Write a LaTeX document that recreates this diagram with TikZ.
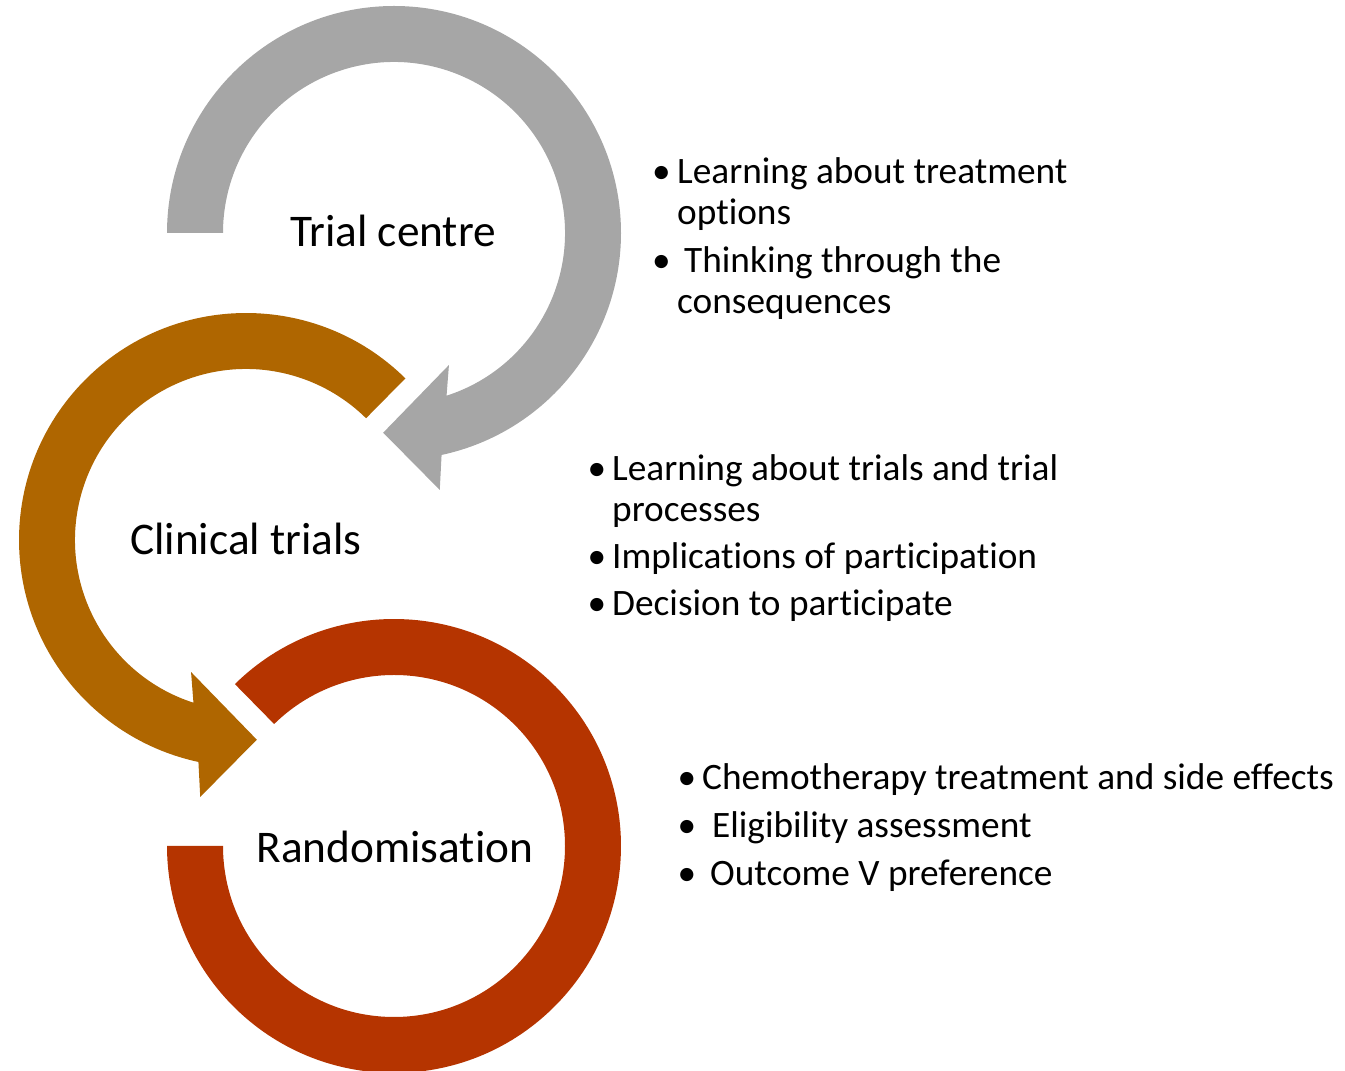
\documentclass[tikz,border=0pt]{standalone}
\usepackage{fontspec}
\setmainfont{Carlito}[RawFeature={-liga;-clig;-dlig;-calt}]
\usetikzlibrary{calc}
\definecolor{arcgray}{RGB}{166,166,166}
\definecolor{arcbrown}{RGB}{175,102,0}
\definecolor{arcred}{RGB}{181,52,0}
\tikzset{
  lbl/.style={anchor=base, inner sep=0pt, font=\fontsize{45.3}{54}\selectfont},
  btxt/.style={anchor=base west, inner sep=0pt, font=\fontsize{37.3}{45}\selectfont},
  bdot/.style={anchor=base, inner sep=0pt, font=\fontsize{37.3}{45}\selectfont},
}
\begin{document}
\begin{tikzpicture}[x=1pt,y=1pt]
\useasboundingbox (0,0) rectangle (1345,1071);
\coordinate (gc) at (394,838);
\coordinate (bc) at (246,531);
\coordinate (rc) at (394,225);
% gray circular arrow
\fill[arcgray] ($(gc)+(180:227)$) arc[start angle=180, end angle=-77.9, radius=227pt]
  -- ($(gc)+(-79.9:261)$) -- ($(gc)+(-93.1:200)$) -- ($(gc)+(-67.4:143)$)
  -- ($(gc)+(-72.1:171)$) arc[start angle=-72.1, end angle=180, radius=171pt] -- cycle;
% brown circular arrow
\fill[arcbrown] ($(bc)+(45.4:227)$) arc[start angle=45.4, end angle=257.9, radius=227pt]
  -- ($(bc)+(259.9:261)$) -- ($(bc)+(273.1:200)$) -- ($(bc)+(247.4:143)$)
  -- ($(bc)+(252.1:171)$) arc[start angle=252.1, end angle=45.4, radius=171pt] -- cycle;
% red ring segment
\fill[arcred] ($(rc)+(134.5:227)$) arc[start angle=134.5, end angle=-180, radius=227pt]
  -- ($(rc)+(180:171)$) arc[start angle=-180, end angle=134.5, radius=171pt] -- cycle;
% central labels
\node[lbl] (lblA) at (393,824) {Trial centre};
\node[lbl] (lblB) at (246,516) {Clinical trials};
\node[lbl] (lblC) at (395,208) {Randomisation};
% group 1
\node[bdot] (g1d1) at (661.5,887) {\textbullet};
\node[btxt] (g1t1) at (677,887) {Learning about treatment};
\node[btxt] (g1t2) at (677,846) {options};
\node[bdot] (g1d2) at (661.5,798) {\textbullet};
\node[btxt] (g1t3) at (684,798) {Thinking through the};
\node[btxt] (g1t4) at (677,757) {consequences};
% group 2
\node[bdot] (g2d1) at (597,590) {\textbullet};
\node[btxt] (g2t1) at (612,590) {Learning about trials and trial};
\node[btxt] (g2t2) at (612,549) {processes};
\node[bdot] (g2d2) at (597,502) {\textbullet};
\node[btxt] (g2t3) at (612,502) {Implications of participation};
\node[bdot] (g2d3) at (597,455) {\textbullet};
\node[btxt] (g2t4) at (612,455) {Decision to participate};
% group 3
\node[bdot] (g3d1) at (687,281) {\textbullet};
\node[btxt] (g3t1) at (702,281) {Chemotherapy treatment and side effects};
\node[bdot] (g3d2) at (687,233) {\textbullet};
\node[btxt] (g3t2) at (712,233) {Eligibility assessment};
\node[bdot] (g3d3) at (687,185) {\textbullet};
\node[btxt] (g3t3) at (710,185) {Outcome V preference};
\end{tikzpicture}
\end{document}
